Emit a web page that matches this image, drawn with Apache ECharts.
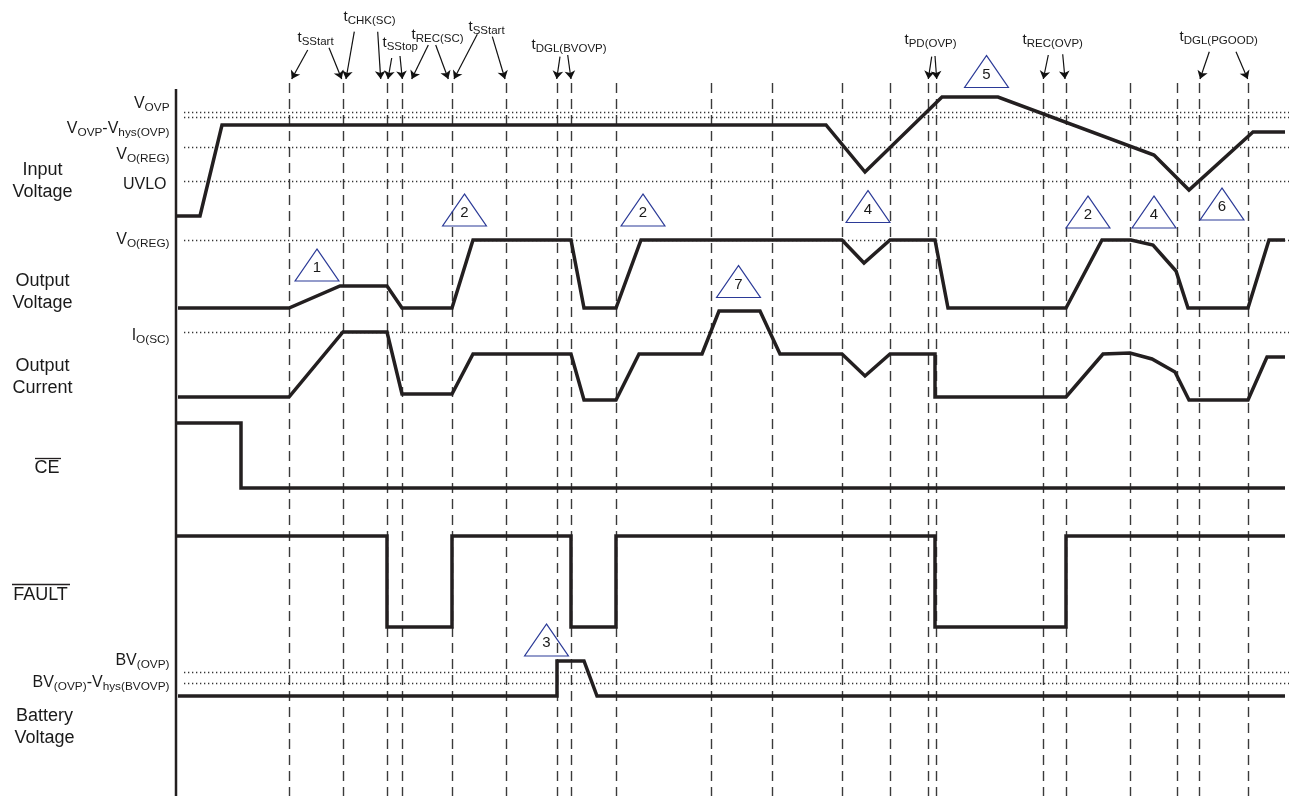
<!DOCTYPE html>
<html><head><meta charset="utf-8">
<script src="https://cdn.jsdelivr.net/npm/echarts@6/dist/echarts.min.js"></script>
<style>html,body{margin:0;padding:0;background:#fff}#c{width:1291px;height:796px}</style>
</head><body><div id="c"></div>
<script>
// time positions of the dashed event markers
const dashedTimes = [289,343,387,402,452,506,557,571,616,711,772,842,890,928,936,1043,1066,1130,1177,1199,1248];
// dotted reference levels
const refLevels = [112.5,117.5,147,181,240.5,332.5,672.5,683.5];
// waveforms [time, level]
const inputVoltage = [[176,216],[200,216],[222,125],[826,125],[865,172],[942,97],[998,97],[1154,155],[1189,190],[1253,132],[1285,132]];
const outputVoltage = [[178,308],[289,308],[340,286],[387,286],[402,308],[452,308],[473,240],[571,240],[584,308],[616,308],[641,240],[842,240],[864,263],[890,240],[935,240],[948,308],[1066,308],[1102,240],[1131,240],[1153,245],[1176,271],[1188,308],[1248,308],[1269,240],[1285,240]];
const outputCurrent = [[178,397],[289,397],[343,332],[387,332],[402,394],[452,394],[473,354],[571,354],[584,400],[616,400],[639,354],[702,354],[719,311],[760,311],[780,354],[842,354],[865,376],[890,354],[935,354],[935,397],[1066,397],[1103,354],[1130,353],[1152,359],[1175,372],[1189,400],[1248,400],[1267,357],[1285,357]];
const ceSignal = [[176,423],[241,423],[241,488],[1285,488]];
const faultSignal = [[176,536],[387,536],[387,627],[452,627],[452,536],[571,536],[571,627],[616,627],[616,536],[935,536],[935,627],[1066,627],[1066,536],[1285,536]];
const batteryVoltage = [[178,696],[557,696],[557,661],[584,661],[597,696],[1285,696]];
const yAxisLine = [[176,89],[176,796]];
// numbered note markers [time, level, number]
const notes = [[317,265,'1'],[464.5,210,'2'],[643,210,'2'],[868,206.5,'4'],[986.5,71.5,'5'],[1088,212,'2'],[1154,212,'4'],[1222,204,'6'],[738.5,281.5,'7'],[546.5,640,'3']];
// timing labels [x, y, subscript]
const timingLabels = [[298,38,'SStart'],[344,17,'CHK(SC)'],[383,43,'SStop'],[412,35,'REC(SC)'],[469,27,'SStart'],[532,45,'DGL(BVOVP)'],[905,40,'PD(OVP)'],[1023,40,'REC(OVP)'],[1180,37,'DGL(PGOOD)']];
const timingArrows = [
  [[307.7,50],[291.7,79]],[[329,47.7],[341.7,79]],
  [[354.3,31.7],[346,79]],[[377.7,31.7],[380.7,79]],
  [[391.7,58],[388,79]],[[400,56],[402.3,79]],
  [[428.3,45],[411.7,79]],[[435.7,45],[448.3,79]],
  [[477.3,34.3],[454,79]],[[492.3,36.7],[505,79]],
  [[560,56.7],[556.7,79]],[[567.7,55],[571,79]],
  [[931.7,56.7],[928.3,79]],[[935,56],[936.7,79]],
  [[1048.3,55],[1043.3,79]],[[1062.7,54.3],[1065,79]],
  [[1209.3,51.7],[1200,79]],[[1236,51.7],[1247.7,79]]
];
// level labels [x, y, rich text]
const levelLabels = [
  [170,104,'{m|V}{s|OVP}'],
  [170,129,'{m|V}{s|OVP}{m|-V}{s|hys(OVP)}'],
  [170,155,'{m|V}{s|O(REG)}'],
  [167,185,'{m|UVLO}'],
  [170,240,'{m|V}{s|O(REG)}'],
  [170,336,'{m|I}{s|O(SC)}'],
  [170,661,'{m|BV}{s|(OVP)}'],
  [170,683,'{m|BV}{s|(OVP)}{m|-V}{s|hys(BVOVP)}']
];
// signal names [x, y, text]
const signalNames = [[43,182,'Input\nVoltage'],[43,293,'Output\nVoltage'],[43,378,'Output\nCurrent'],[47.5,469,'CE'],[41,596,'FAULT'],[45,728,'Battery\nVoltage']];
const overlines = [[[35,458],[61,458]],[[12,584.5],[70,584.5]]];

const chart = echarts.init(document.getElementById('c'), null, {renderer:'canvas'});
const INK = '#231f20';
const TXT = '#1a1a1a';
const FONT = 'Liberation Sans';
const wave = (name, data) => ({type:'line', name, data, symbol:'none', silent:true, z:5,
  lineStyle:{color:INK, width:3.5, join:'miter', cap:'butt', opacity:1}});
const clear = {color:'rgba(0,0,0,0)', opacity:1};
chart.setOption({
  animation:false,
  backgroundColor:'#fff',
  grid:{left:0,right:0,top:0,bottom:0},
  xAxis:{type:'value',min:0,max:1291,show:false},
  yAxis:{type:'value',min:0,max:796,inverse:true,show:false},
  series:[
    {type:'lines', coordinateSystem:'cartesian2d', silent:true, z:1,
     data:dashedTimes.map(t=>({coords:[[t,83],[t,796]]})),
     lineStyle:{color:'#3a3a3a', width:1.4, type:[10,6], opacity:1}},
    {type:'lines', coordinateSystem:'cartesian2d', silent:true, z:1,
     data:refLevels.map(v=>({coords:[[184,v],[1289,v]]})),
     lineStyle:{color:'#333', width:1.3, type:[1.3,2.7], opacity:1}},
    {type:'line', data:yAxisLine, symbol:'none', silent:true, z:5, lineStyle:{color:INK,width:2.5,opacity:1}},
    wave('Input Voltage', inputVoltage),
    wave('Output Voltage', outputVoltage),
    wave('Output Current', outputCurrent),
    wave('CE', ceSignal),
    wave('FAULT', faultSignal),
    wave('Battery Voltage', batteryVoltage),
    {type:'lines', coordinateSystem:'cartesian2d', silent:true, z:6,
     data:timingArrows.map(c=>({coords:c})),
     symbol:['none','arrow'], symbolSize:8,
     lineStyle:{color:'#111', width:1.2, opacity:1}},
    {type:'lines', coordinateSystem:'cartesian2d', silent:true, z:6,
     data:overlines.map(c=>({coords:c})),
     lineStyle:{color:INK, width:1.3, opacity:1}},
    {type:'scatter', silent:true, z:7, symbol:'triangle', symbolSize:[44,32],
     itemStyle:{color:'rgba(0,0,0,0)', borderColor:'#2b3a97', borderWidth:1.1, opacity:1},
     data:notes.map(n=>({value:[n[0],n[1]], name:n[2]})),
     label:{show:true, position:'inside', formatter:'{b}', color:TXT, fontSize:15,
       fontFamily:FONT, offset:[0,3]}},
    {type:'scatter', silent:true, z:8, symbolSize:1, itemStyle:clear,
     data:timingLabels.map(l=>({value:[l[0],l[1]], label:{formatter:'{t|t}{s|'+l[2]+'}'}})),
     label:{show:true, position:[0,0], align:'left', verticalAlign:'middle',
       rich:{t:{fontSize:15, lineHeight:20, verticalAlign:'middle', color:TXT, fontFamily:FONT},
             s:{fontSize:11.5, lineHeight:20, verticalAlign:'bottom', color:TXT, fontFamily:FONT}}}},
    {type:'scatter', silent:true, z:8, symbolSize:1, itemStyle:clear,
     data:levelLabels.map(l=>({value:[l[0],l[1]], label:{formatter:l[2]}})),
     label:{show:true, position:[0,0], align:'right', verticalAlign:'middle',
       rich:{m:{fontSize:16, lineHeight:20, verticalAlign:'middle', color:TXT, fontFamily:FONT},
             s:{fontSize:11.8, lineHeight:20, verticalAlign:'bottom', color:TXT, fontFamily:FONT}}}},
    {type:'scatter', silent:true, z:8, symbolSize:1, itemStyle:clear,
     data:signalNames.map(l=>({value:[l[0],l[1]], label:{formatter:l[2]}})),
     label:{show:true, position:[0,0], align:'center', verticalAlign:'middle',
       fontSize:18, lineHeight:22, color:TXT, fontFamily:FONT}}
  ]
});
</script></body></html>
